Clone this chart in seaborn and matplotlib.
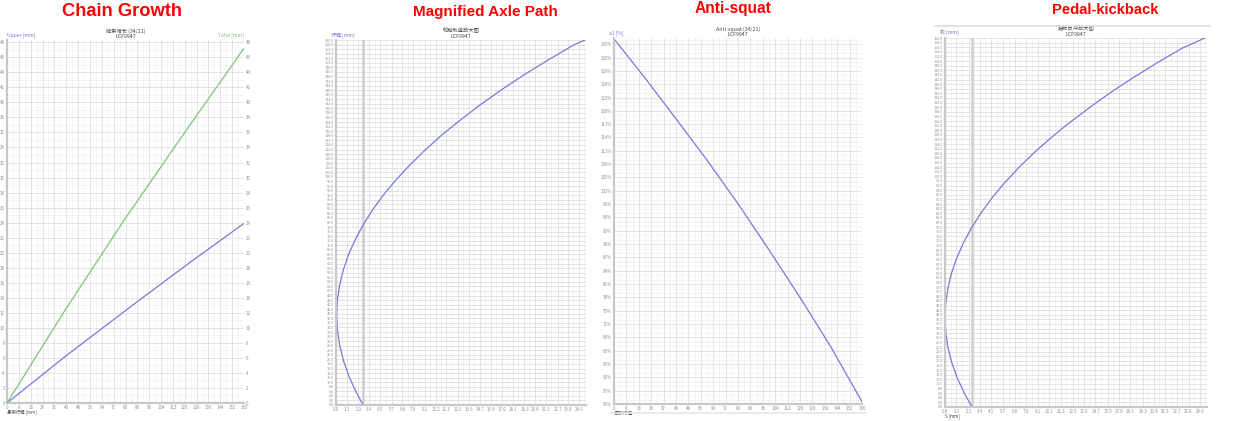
import numpy as np
import matplotlib
matplotlib.use('Agg')
import matplotlib.pyplot as plt
from matplotlib.lines import Line2D
import seaborn as sns

# ---- data ----
# chain growth: travel [mm] vs upper / total chain growth [mm]
cg_travel = [0, 40, 80, 120, 160]
cg_upper = [0, 6.3, 12.3, 18.2, 23.9]
cg_total = [0, 12.6, 24.6, 36.0, 47.2]

# magnified axle path: x offset vs travel
axle_x = [2.77, 1.95, 1.27, 0.75, 0.37, 0.14, 0.07, 0.14, 0.37, 0.75, 1.27, 1.95, 2.77,
          3.74, 4.86, 6.13, 7.56, 9.13, 10.85, 12.73, 14.75, 16.92, 19.24, 21.71, 24.33, 25.5]
axle_y = [0, 6.6, 13.2, 19.7, 26.3, 32.9, 39.5, 46.0, 52.6, 59.2, 65.8, 72.3, 78.9,
          85.5, 92.1, 98.6, 105.2, 111.8, 118.4, 124.9, 131.5, 138.1, 144.7, 151.2, 157.8, 160]
axle_start = 2.77

# anti-squat [%] vs travel
as_travel = [0, 20, 40, 60, 80, 100, 120, 140, 160]
as_pct = [136.2, 127.4, 118.2, 108.9, 99.1, 88.7, 78.0, 66.8, 54.5]

# pedal kickback
kick_x = [2.64, 1.88, 1.20, 0.67, 0.30, 0.08, 0.0, 0.07, 0.29, 0.64, 1.15, 1.79, 2.58,
          3.51, 4.58, 5.80, 7.17, 8.68, 10.32, 12.11, 14.05, 16.12, 18.35, 20.71, 23.22, 25.4]
kick_y = [0, 6.1, 12.6, 19.1, 25.6, 32.1, 38.6, 45.1, 51.6, 58.1, 64.6, 71.1, 77.6,
          84.1, 90.6, 97.1, 103.6, 110.2, 116.6, 123.1, 129.6, 136.2, 142.7, 149.2, 155.7, 160]
kick_start = 2.64

travel_ticks = list(range(0, 161, 8))
cg_yticks = list(range(0, 49, 2))
path_yticks = list(range(0, 161, 2))
path_xticks = [0, 1.1, 2.3, 3.4, 4.5, 5.7, 6.8, 7.9, 9.1, 10.2, 11.3, 12.5, 13.6, 14.7,
               15.9, 17.0, 18.1, 19.3, 20.4, 21.5, 22.7, 23.8, 24.9]
as_yticks = list(range(54, 136, 3))

headers = ['Chain Growth', 'Magnified Axle Path', 'Anti-squat', 'Pedal-kickback']
sub_titles = ['链条增长 (34/21)\nLCF9947', '轮轴轨迹放大图\nLCF9947',
              'Anti-squat (34/21)\nLCF9947', '踏板反冲放大图\nLCF9947']

BLUE = '#7878dc'
GREEN = '#7cc47c'
TICK = '#909090'

sns.set_style('white')
plt.rcParams['font.family'] = ['Noto Sans CJK SC', 'DejaVu Sans']

fig = plt.figure(figsize=(12.41, 4.21), dpi=100)
W, H = 1241, 421


def add_ax(l, t, r, b):
    return fig.add_axes([l / W, 1 - b / H, (r - l) / W, (b - t) / H])


def style(ax, xt, yt, xminor, yminor, xlab=None, ylab=None, ysize=3.2):
    ax.set_xticks(xt)
    ax.set_yticks(yt)
    if xminor is not None:
        ax.set_xticks(xminor, minor=True)
    if yminor is not None:
        ax.set_yticks(yminor, minor=True)
    ax.grid(which='major', color='#d9d9d9', lw=0.5)
    ax.grid(which='minor', color='#ededed', lw=0.4)
    ax.tick_params(which='both', length=0, labelsize=3.2, colors=TICK, pad=1.5)
    ax.tick_params(axis='y', labelsize=ysize)
    if xlab is not None:
        ax.set_xticklabels(xlab)
    if ylab is not None:
        ax.set_yticklabels(ylab)
    for s in ['top', 'right']:
        ax.spines[s].set_visible(False)
    for s in ['left', 'bottom']:
        ax.spines[s].set_color('#c8c8c8')
        ax.spines[s].set_linewidth(1.6)
    ax.set_xlabel('')
    ax.set_ylabel('')


# ---- panel 1: chain growth ----
ax1 = add_ax(7, 40, 244, 403)
sns.lineplot(x=cg_travel, y=cg_upper, ax=ax1, color=BLUE, lw=0.9)
ax1.set_xlim(0, 160)
ax1.set_ylim(0, 48.3)
style(ax1, travel_ticks, cg_yticks, np.arange(0, 161, 4), np.arange(0, 49, 1))
ax1r = ax1.twinx()
sns.lineplot(x=cg_travel, y=cg_total, ax=ax1r, color=GREEN, lw=0.9)
ax1r.set_ylim(0, 48.3)
ax1r.set_yticks(cg_yticks)
ax1r.tick_params(length=0, labelsize=3.2, colors=TICK, pad=1.5)
ax1r.set_ylabel('')
for s in ax1r.spines.values():
    s.set_visible(False)
ax1.text(0, 1.005, 'Upper [mm]', transform=ax1.transAxes, fontsize=3.6, color=BLUE, va='bottom')
ax1.text(1.0, 1.005, 'Total [mm]', transform=ax1.transAxes, fontsize=3.6, color=GREEN, va='bottom', ha='right')
ax1.text(0, -0.018, '悬架行程 [mm]', transform=ax1.transAxes, fontsize=3.2, color='#555555', va='top')

# ---- panel 2: magnified axle path ----
ax2 = add_ax(336, 40, 586, 405)
ax2.axvline(axle_start, color='#cfcfcf', lw=1.8, zorder=1)
sns.lineplot(x=axle_x, y=axle_y, ax=ax2, color=BLUE, lw=0.9, sort=False, estimator=None)
ax2.set_xlim(0, 25.6)
ax2.set_ylim(0, 160)
style(ax2, path_xticks, path_yticks, np.arange(0.565, 25.6, 1.13), None,
      ylab=['%.1f' % v for v in path_yticks], ysize=2.7)
ax2.text(-0.02, 1.005, '行程 [mm]', transform=ax2.transAxes, fontsize=3.6, color=BLUE, va='bottom')

# ---- panel 3: anti-squat ----
ax3 = add_ax(614, 38, 862, 404)
sns.lineplot(x=as_travel, y=as_pct, ax=ax3, color=BLUE, lw=0.9)
ax3.set_xlim(0, 160)
ax3.set_ylim(54, 136.4)
style(ax3, travel_ticks, as_yticks, np.arange(0, 161, 4), np.arange(54, 137, 1),
      ylab=['%d%%' % v for v in as_yticks])
ax3.text(-0.02, 1.005, 'a1 [%]', transform=ax3.transAxes, fontsize=3.6, color=BLUE, va='bottom')
ax3.text(0.0, -0.019, '悬架行程', transform=ax3.transAxes, fontsize=3.4, color='#555555', va='top')

# ---- panel 4: pedal kickback ----
ax4 = add_ax(945, 38, 1207, 407)
ax4.axvline(kick_start, color='#cfcfcf', lw=1.8, zorder=1)
sns.lineplot(x=kick_x, y=kick_y, ax=ax4, color=BLUE, lw=0.9, sort=False, estimator=None)
ax4.set_xlim(0, 25.6)
ax4.set_ylim(0, 160)
style(ax4, path_xticks, path_yticks, np.arange(0.565, 25.6, 1.13), None,
      ylab=['%.1f' % v for v in path_yticks], ysize=2.7)
ax4.text(-0.02, 1.005, '轮 [mm]', transform=ax4.transAxes, fontsize=3.6, color=BLUE, va='bottom')
ax4.text(0.0, -0.017, 'S [mm]', transform=ax4.transAxes, fontsize=3.2, color='#333333', va='top')

# small screenshot titles and red headers
head_pos = [(122, 12, 13.2), (485, 12, 11.0), (733, 9, 11.2), (1105, 10, 10.6)]
for ax, sub, head, (cx, cy, fs) in zip([ax1, ax2, ax3, ax4], sub_titles, headers, head_pos):
    ax.text(0.5, 1.004, sub, transform=ax.transAxes, ha='center', va='bottom',
            fontsize=3.8, color='#444444', linespacing=1.0)
    fig.text(cx / W, 1 - cy / H, head, ha='center', va='center', color='#ff0000',
             fontsize=fs, fontweight='bold', family='Liberation Sans')

# screenshot edge lines
fig.add_artist(Line2D([935 / W, 1210 / W], [1 - 26 / H, 1 - 26 / H], color='#dddddd', lw=1.2))
fig.add_artist(Line2D([610 / W, 866 / W], [1 - 413 / H, 1 - 413 / H], color='#e6e6e6', lw=1.2))

fig.savefig('out.png', dpi=100)
